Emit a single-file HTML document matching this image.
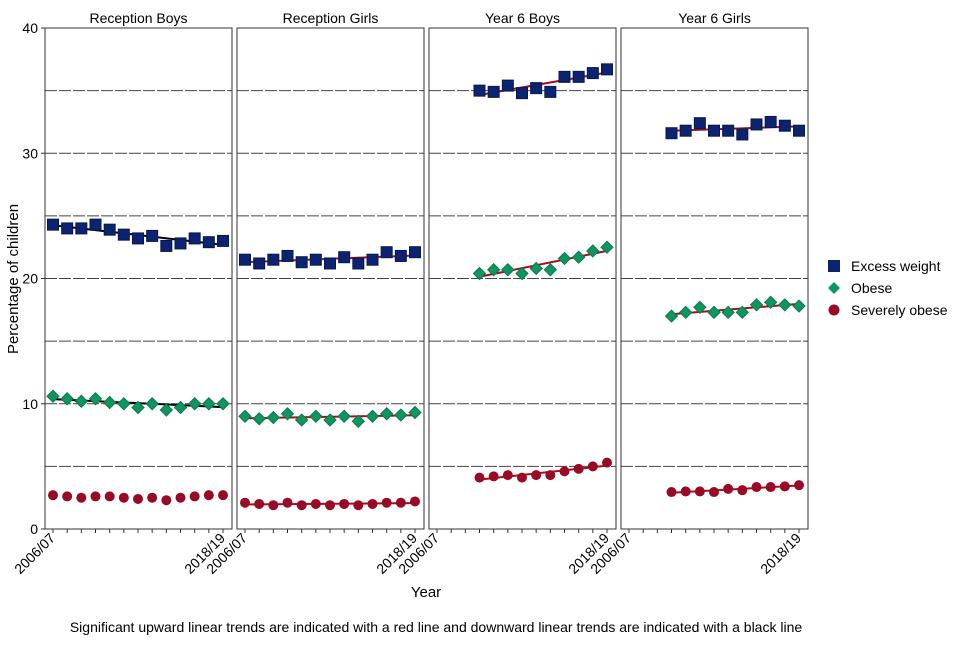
<!DOCTYPE html>
<html><head><meta charset="utf-8"><style>
body{margin:0;background:#fff;width:960px;height:640px;overflow:hidden}
text{font-family:"Liberation Sans",Arial,sans-serif;fill:#000}
</style></head><body>
<svg id="chart" width="960" height="640" xmlns="http://www.w3.org/2000/svg"></svg>
<script>
const panels=["Reception Boys","Reception Girls","Year 6 Boys","Year 6 Girls"];
const yearLabels=["2006/07","2018/19"];
const startIdx=[0,0,3,3];
const excess=[[24.3,24.0,24.0,24.3,23.9,23.5,23.2,23.4,22.6,22.8,23.2,22.9,23.0],[21.5,21.2,21.5,21.8,21.3,21.5,21.2,21.7,21.2,21.5,22.1,21.8,22.1],[35.0,34.9,35.4,34.8,35.2,34.9,36.1,36.1,36.4,36.7],[31.6,31.8,32.4,31.8,31.8,31.5,32.3,32.5,32.2,31.8]];
const obese=[[10.6,10.4,10.2,10.4,10.1,10.0,9.7,10.0,9.5,9.7,10.0,10.0,10.0],[9.0,8.8,8.9,9.2,8.7,9.0,8.7,9.0,8.6,9.0,9.2,9.1,9.3],[20.4,20.7,20.7,20.4,20.8,20.7,21.6,21.7,22.2,22.5],[17.0,17.3,17.7,17.3,17.3,17.3,17.9,18.1,17.9,17.8]];
const severe=[[2.7,2.6,2.5,2.6,2.6,2.5,2.4,2.5,2.3,2.5,2.6,2.7,2.7],[2.1,2.0,1.9,2.1,1.9,2.0,1.9,2.0,1.9,2.0,2.1,2.1,2.2],[4.1,4.2,4.3,4.1,4.3,4.3,4.6,4.8,5.0,5.3],[2.95,3.0,3.0,2.95,3.2,3.1,3.35,3.35,3.4,3.5]];
const trendExcess=[-1,1,1,1];
const trendObese=[-1,1,1,1];
const trendSevere=[0,1,1,1];
const yTicks=[0,10,20,30,40];
const gridVals=[5,10,15,20,25,30,35];

const svg=document.getElementById('chart');
const NS="http://www.w3.org/2000/svg";
function el(tag,attrs,parent){const e=document.createElementNS(NS,tag);for(const k in attrs)e.setAttribute(k,attrs[k]);(parent||svg).appendChild(e);return e;}
const plotTop=28,plotBottom=529;
function y(v){return plotBottom-v*(plotBottom-plotTop)/40;}
const pLeft=[45,237,429,621],pW=187;
function x(p,i){return pLeft[p]+8+i*170/12;}

yTicks.forEach(v=>{
  const t=el('text',{x:38,y:y(v)+5,'text-anchor':'end','font-size':'14'});
  t.textContent=v;
  
  
  el('line',{x1:41,x2:45,y1:y(v),y2:y(v),stroke:'#333'});
});
const yt=el('text',{transform:'translate(18,279) rotate(-90)','text-anchor':'middle','font-size':'15'});
yt.textContent='Percentage of children';



function trendLine(p,arr,dir,g){
  if(!dir)return;
  const s=startIdx[p],n=arr.length;
  let sx=0,sy=0,sxx=0,sxy=0;
  arr.forEach((v,i)=>{sx+=i;sy+=v;sxx+=i*i;sxy+=i*v;});
  const b=(n*sxy-sx*sy)/(n*sxx-sx*sx),a=(sy-b*sx)/n;
  const l=el('line',{x1:x(p,s),y1:y(a),x2:x(p,s+n-1),y2:y(a+b*(n-1)),stroke:dir>0?'#a50f1c':'#000','stroke-width':2},g);
  
  
}

panels.forEach((name,p)=>{
  const g=el('g',{});
  
  
  const t=el('text',{x:pLeft[p]+pW/2,y:23,'text-anchor':'middle','font-size':'14'},g);
  t.textContent=name;
  
  
  gridVals.forEach(v=>{
    const gl=el('line',{x1:pLeft[p],x2:pLeft[p]+pW,y1:y(v),y2:y(v),stroke:'#444','stroke-dasharray':'12,2'},g);
    
    
  });
  el('rect',{x:pLeft[p],y:plotTop,width:pW,height:plotBottom-plotTop,fill:'none',stroke:'#333'},g);
  for(let i=0;i<13;i++)el('line',{x1:x(p,i),x2:x(p,i),y1:plotBottom,y2:plotBottom+4,stroke:'#333'},g);
  [0,12].forEach((i,k)=>{
    const lt=el('text',{transform:`translate(${x(p,i)+3},${plotBottom+10}) rotate(-45)`,'text-anchor':'end','font-size':'14'},g);
    lt.textContent=yearLabels[k];
    
    
  });
  const s=startIdx[p];
  trendLine(p,excess[p],trendExcess[p],g);
  trendLine(p,obese[p],trendObese[p],g);
  trendLine(p,severe[p],trendSevere[p],g);
  excess[p].forEach((v,i)=>{
    const r=el('rect',{x:x(p,s+i)-5.5,y:y(v)-5.5,width:11,height:11,fill:'#0c2470',stroke:'#061850'},g);
    
    
  });
  obese[p].forEach((v,i)=>{
    const cx=x(p,s+i),cy=y(v);
    const d=el('polygon',{points:`${cx},${cy-6} ${cx+6},${cy} ${cx},${cy+6} ${cx-6},${cy}`,fill:'#0f9660',stroke:'#0a7a4c'},g);
    
    
  });
  severe[p].forEach((v,i)=>{
    const c=el('circle',{cx:x(p,s+i),cy:y(v),r:5,fill:'#980a26'},g);
    
    
  });
});

const xt=el('text',{x:426,y:597,'text-anchor':'middle','font-size':'15'});
xt.textContent='Year';


const ft=el('text',{x:436,y:632,'text-anchor':'middle','font-size':'14'});
ft.textContent='Significant upward linear trends are indicated with a red line and downward linear trends are indicated with a black line';



const lg=el('g',{});


const legNames=['Excess weight','Obese','Severely obese'];
const legY=[266,288,310];
legNames.forEach((n,k)=>{
  const cy=legY[k],cx=834;
  if(k==0)el('rect',{x:cx-6,y:cy-6,width:12,height:12,fill:'#0c2470'},lg);
  if(k==1)el('polygon',{points:`${cx},${cy-6} ${cx+6},${cy} ${cx},${cy+6} ${cx-6},${cy}`,fill:'#0f9660'},lg);
  if(k==2)el('circle',{cx:cx,cy:cy,r:5.5,fill:'#980a26'},lg);
  const t=el('text',{x:851,y:cy+5,'font-size':'14'},lg);
  t.textContent=n;
  
  
});
</script>
</body></html>
